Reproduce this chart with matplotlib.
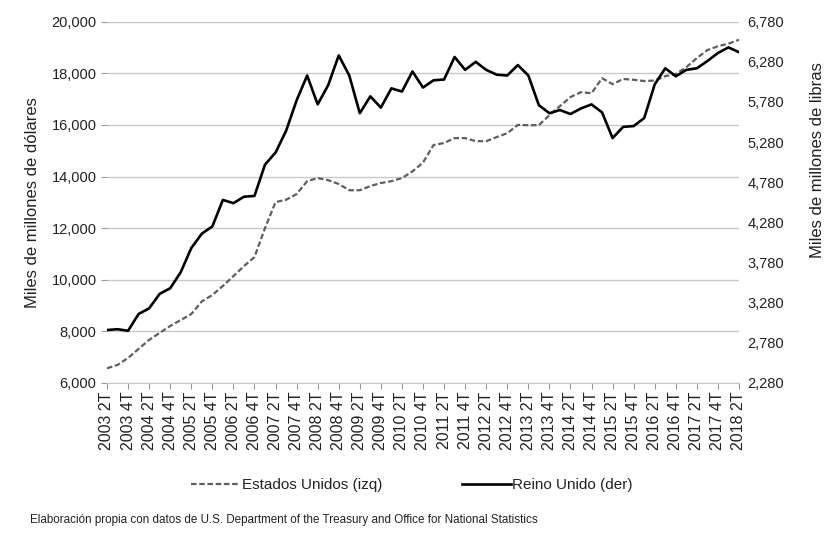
import matplotlib
matplotlib.use("Agg")
import matplotlib.pyplot as plt
from matplotlib.ticker import FuncFormatter

plt.rcParams['font.family'] = ['Liberation Sans', 'DejaVu Sans']

# trimestres 2003 2T .. 2018 2T
years = [2003 + (i + 1) // 4 for i in range(61)]
quarters = [(i + 1) % 4 + 1 for i in range(61)]
labels = [f"{y} {q}T" for y, q in zip(years, quarters)]

# Estados Unidos, miles de millones de dólares (eje izquierdo)
us_values = [6570, 6700, 6970, 7320, 7670, 7940, 8210, 8440, 8670, 9160,
             9410, 9760, 10140, 10530, 10880, 12000, 13010, 13100, 13320, 13820,
             13940, 13860, 13710, 13470, 13470, 13630, 13750, 13820, 13940, 14200,
             14540, 15220, 15300, 15490, 15490, 15370, 15370, 15530, 15680, 16000,
             15990, 15990, 16380, 16730, 17080, 17270, 17230, 17810, 17580, 17780,
             17750, 17700, 17720, 17890, 17970, 18240, 18590, 18900, 19050, 19150,
             19300]

# Reino Unido, miles de millones de libras (eje derecho)
uk_values = [2940, 2950, 2930, 3140, 3210, 3390, 3460, 3660, 3960, 4140,
             4230, 4560, 4520, 4600, 4610, 5000, 5150, 5420, 5800, 6110,
             5750, 5990, 6360, 6110, 5640, 5850, 5710, 5950, 5910, 6160,
             5960, 6050, 6060, 6340, 6180, 6280, 6180, 6120, 6110, 6240,
             6110, 5740, 5640, 5680, 5630, 5700, 5750, 5650, 5330, 5470,
             5480, 5580, 6000, 6200, 6100, 6180, 6200, 6290, 6390, 6460,
             6400]

left_ticks = list(range(6000, 20001, 2000))
right_ticks = list(range(2280, 6781, 500))

text_col = '#222222'
grid_col = '#c8c8c8'

fig = plt.figure(figsize=(8.28, 5.36), dpi=100)
ax = fig.add_axes([107 / 828, 1 - 383 / 536, (739 - 107) / 828, (383 - 21.7) / 536])
ax2 = ax.twinx()

x = list(range(len(labels)))
l1, = ax.plot(x, us_values, color='#5e5e5e', lw=1.6, ls=(0, (2.5, 1.2)),
              label='Estados Unidos (izq)')
l2, = ax2.plot(x, uk_values, color='black', lw=1.9, label='Reino Unido (der)')

ax.set_xlim(0, 60)
ax.set_ylim(6000, 20000)
ax.set_yticks(left_ticks)
ax.yaxis.set_major_formatter(FuncFormatter(lambda v, p: f"{int(v):,}"))
ax.grid(axis='y', color=grid_col, lw=1)
ax.set_axisbelow(True)

ax2.set_ylim(2280, 6780)
ax2.set_yticks(right_ticks)
ax2.yaxis.set_major_formatter(FuncFormatter(lambda v, p: f"{int(v):,}"))

ax.set_xticks(x[::2])
ax.set_xticklabels(labels[::2], rotation=90, fontsize=11.5, color=text_col)

for a in (ax, ax2):
    for s in a.spines.values():
        s.set_visible(False)
ax.spines['bottom'].set_visible(True)
ax.spines['bottom'].set_color(grid_col)

ax.tick_params(axis='y', labelsize=10.5, colors=text_col, length=4, color='#999999')
ax.tick_params(axis='x', length=4, color='#999999', pad=2)
ax2.tick_params(axis='y', labelsize=10.5, colors=text_col, length=0, pad=6)

ax.set_ylabel('Miles de millones de dólares', fontsize=12, color=text_col, labelpad=8)
# etiqueta derecha colocada a mano para que quepa en el borde
fig.text(818 / 828, 1 - 160 / 536, 'Miles de millones de libras', rotation=90,
         fontsize=12, color=text_col, ha='center', va='center')

fig.legend(handles=[l1, l2], loc='center', bbox_to_anchor=(412 / 828, 1 - 485 / 536),
           ncol=2, frameon=False, fontsize=11, handlelength=3.2, handletextpad=0.1,
           columnspacing=5.2, labelcolor=text_col)

fig.text(30 / 828, 1 - 520 / 536,
         'Elaboración propia con datos de U.S. Department of the Treasury and Office for National Statistics',
         fontsize=8.4, color=text_col, va='center', ha='left')

fig.savefig('out.png', dpi=100)
